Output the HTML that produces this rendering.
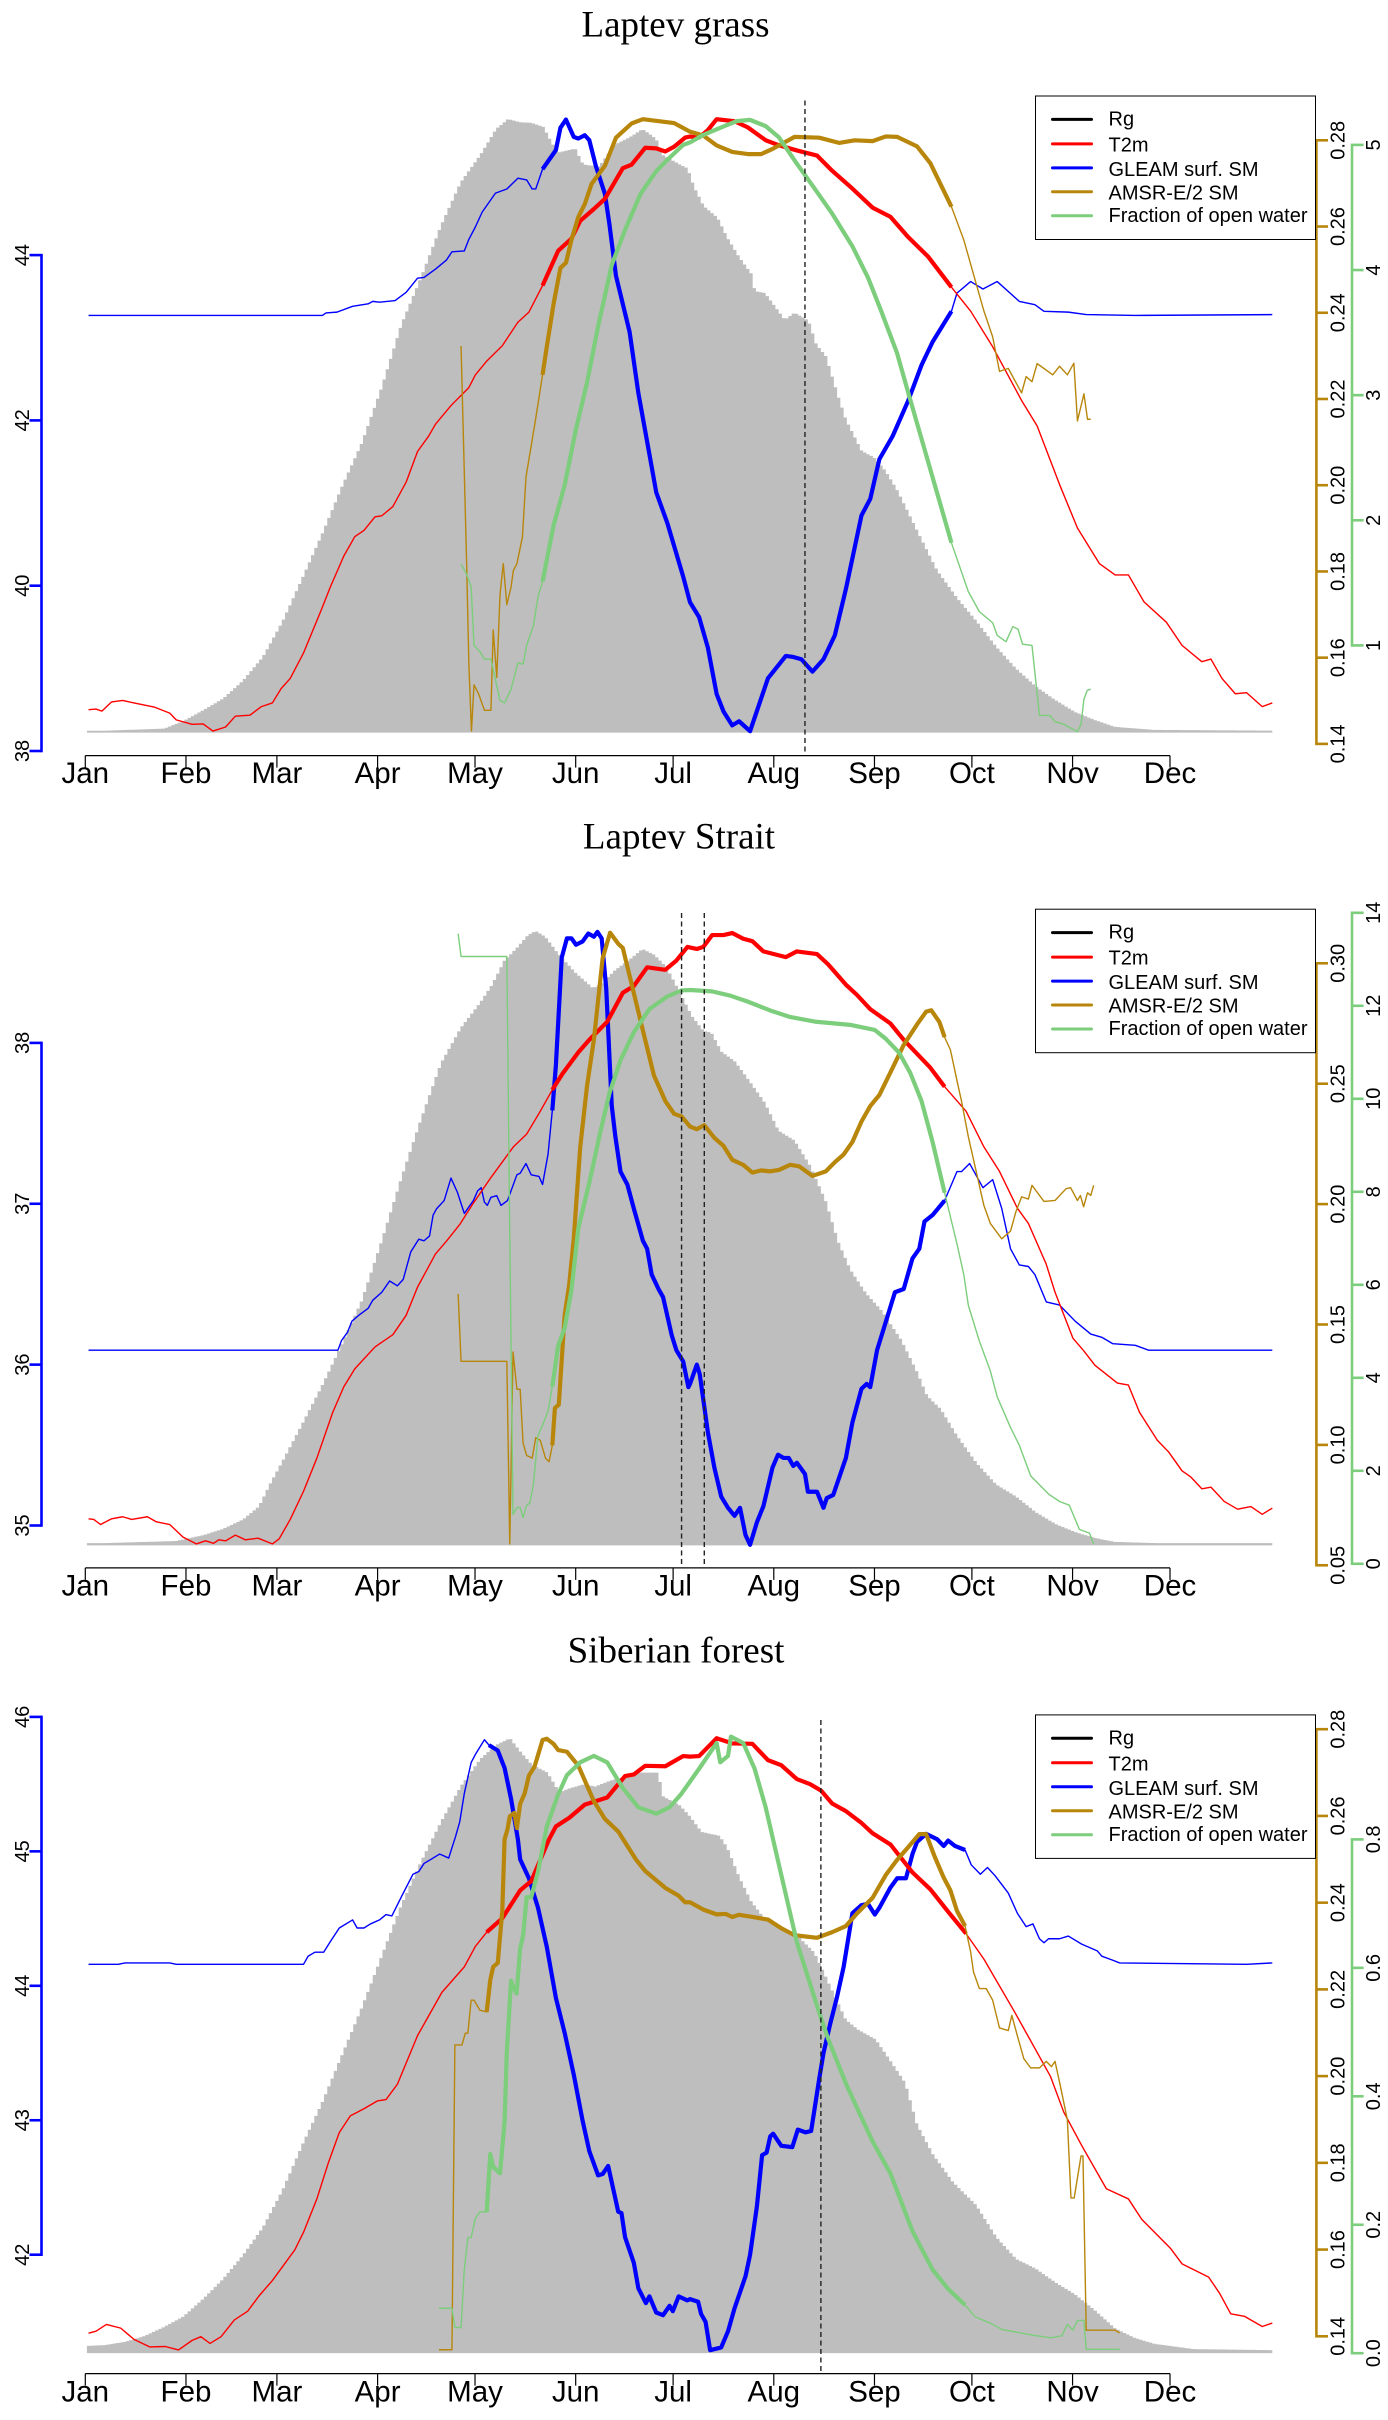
<!DOCTYPE html>
<html lang="en">
<head>
<meta charset="utf-8">
<title>Laptev grass, Laptev Strait, Siberian forest seasonal cycles</title>
<style>
html,body{margin:0;padding:0;background:#fff;}
svg{display:block;}
text{font-family:"Liberation Sans",Arial,sans-serif;fill:#000;}
.title{font-family:"Liberation Serif","Times New Roman",serif;font-size:37px;text-anchor:middle;}
.leg{font-size:20px;}
</style>
</head>
<body>
<svg id="chart" width="1388" height="2420" viewBox="0 0 1388 2420">
  <rect x="0" y="0" width="1388" height="2420" fill="#fff"/>
  <g id="panels"></g>

  <text class="title" x="675.5" y="36.5">Laptev grass</text>
  <text class="title" x="679" y="848.5">Laptev Strait</text>
  <text class="title" x="676" y="1662.3">Siberian forest</text>

  <g transform="translate(0,96)">
    <rect x="1035.5" y="0" width="280" height="143.5" fill="#fff" stroke="#000" stroke-width="1"/>
    <line x1="1052.5" x2="1091.5" y1="23.4" y2="23.4" stroke="#000" stroke-width="3" stroke-linecap="round"/>
    <text class="leg" x="1108.5" y="29.5">Rg</text>
    <line x1="1052.5" x2="1091.5" y1="47.9" y2="47.9" stroke="#f00" stroke-width="3" stroke-linecap="round"/>
    <text class="leg" x="1108.5" y="55.5">T2m</text>
    <line x1="1052.5" x2="1091.5" y1="71.9" y2="71.9" stroke="#00f" stroke-width="3" stroke-linecap="round"/>
    <text class="leg" x="1108.5" y="80">GLEAM surf. SM</text>
    <line x1="1052.5" x2="1091.5" y1="95.8" y2="95.8" stroke="#b8860b" stroke-width="3" stroke-linecap="round"/>
    <text class="leg" x="1108.5" y="103.5">AMSR-E/2 SM</text>
    <line x1="1052.5" x2="1091.5" y1="119.8" y2="119.8" stroke="#7ccd7c" stroke-width="3" stroke-linecap="round"/>
    <text class="leg" x="1108.5" y="126">Fraction of open water</text>
  </g>

  <g transform="translate(0,909.2)">
    <rect x="1035.5" y="0" width="280" height="143.5" fill="#fff" stroke="#000" stroke-width="1"/>
    <line x1="1052.5" x2="1091.5" y1="23.4" y2="23.4" stroke="#000" stroke-width="3" stroke-linecap="round"/>
    <text class="leg" x="1108.5" y="29.5">Rg</text>
    <line x1="1052.5" x2="1091.5" y1="47.9" y2="47.9" stroke="#f00" stroke-width="3" stroke-linecap="round"/>
    <text class="leg" x="1108.5" y="55.5">T2m</text>
    <line x1="1052.5" x2="1091.5" y1="71.9" y2="71.9" stroke="#00f" stroke-width="3" stroke-linecap="round"/>
    <text class="leg" x="1108.5" y="80">GLEAM surf. SM</text>
    <line x1="1052.5" x2="1091.5" y1="95.8" y2="95.8" stroke="#b8860b" stroke-width="3" stroke-linecap="round"/>
    <text class="leg" x="1108.5" y="103.5">AMSR-E/2 SM</text>
    <line x1="1052.5" x2="1091.5" y1="119.8" y2="119.8" stroke="#7ccd7c" stroke-width="3" stroke-linecap="round"/>
    <text class="leg" x="1108.5" y="126">Fraction of open water</text>
  </g>

  <g transform="translate(0,1714.9)">
    <rect x="1035.5" y="0" width="280" height="143.5" fill="#fff" stroke="#000" stroke-width="1"/>
    <line x1="1052.5" x2="1091.5" y1="23.4" y2="23.4" stroke="#000" stroke-width="3" stroke-linecap="round"/>
    <text class="leg" x="1108.5" y="29.5">Rg</text>
    <line x1="1052.5" x2="1091.5" y1="47.9" y2="47.9" stroke="#f00" stroke-width="3" stroke-linecap="round"/>
    <text class="leg" x="1108.5" y="55.5">T2m</text>
    <line x1="1052.5" x2="1091.5" y1="71.9" y2="71.9" stroke="#00f" stroke-width="3" stroke-linecap="round"/>
    <text class="leg" x="1108.5" y="80">GLEAM surf. SM</text>
    <line x1="1052.5" x2="1091.5" y1="95.8" y2="95.8" stroke="#b8860b" stroke-width="3" stroke-linecap="round"/>
    <text class="leg" x="1108.5" y="103.5">AMSR-E/2 SM</text>
    <line x1="1052.5" x2="1091.5" y1="119.8" y2="119.8" stroke="#7ccd7c" stroke-width="3" stroke-linecap="round"/>
    <text class="leg" x="1108.5" y="126">Fraction of open water</text>
  </g>
</svg>

<script>
/* ---------- shared categories ---------- */
const monthLabels = ['Jan','Feb','Mar','Apr','May','Jun','Jul','Aug','Sep','Oct','Nov','Dec'];
const monthStartDays = [1,32,60,91,121,152,182,213,244,274,305,335];

/* ---------- Laptev grass ---------- */
const grassRgDays = [2,7,25.3,31.3,37.4,43.5,49.6,55.7,61.8,67.9,73.9,80,86.1,92.2,98.3,104.4,110.5,116.6,122.7,127.5,131.2,134.8,138.5,142.1,144,146.4,151.9,154.3,159.2,164,168.9,172.6,176.8,178.7,184.1,186.5,188.4,191.4,195.7,198.7,202.4,206,207.2,210.3,213.9,216.4,219.4,223.7,226.1,229.1,232.8,235.2,240.1,243.8,247.4,251.1,257.1,263.2,269.3,275.4,281.5,287.6,293.7,299.8,305.8,311.9,318,330.2,366.7];
const grassRgVals = [0.2,0.2,1.2,5,10.3,16,24.8,36.4,53.9,75.2,96.5,119.7,141,168.2,199.1,222.4,247.6,268.9,282.4,295,299.9,298.3,298,296,290.2,283.4,285.4,277.6,276.6,287.3,291.2,295,290.2,282.4,277.6,275.7,266.9,257.3,251.5,241.8,232.1,224.3,215.6,214.6,206.9,201.5,205,201.1,189.5,183.6,164.3,152.7,137.2,134.2,127.5,117.8,98.4,79,65.5,53.9,41.3,30.6,21.9,15.1,9.3,5.4,2.1,0.6,0.2];
const grassT2mDays = [2,4.3,6.1,9.1,12.5,16,22.2,27,29,33.9,37.3,40.3,44.2,47.2,51.7,55.2,58.6,61.3,64.1,68.2,73.7,76.5,80.6,84,86.8,90.2,92.3,95.7,99.8,103.3,106.7,108.8,113.6,116.3,119.1,121.1,124.6,129.4,134.2,137.6,141.8,146.6,150.7,153.4,157.6,161,166.5,169.2,173.4,176.8,179.6,182.3,185.7,187.2,190,192.7,195.4,200.9,205,210.5,214.6,220.1,226.3,231,237.2,243.4,248.9,254.4,260.5,267.7,273.6,280.4,289.3,294.1,301,306.5,313.3,318.1,322.2,327,333.9,338.7,344.8,347.6,351,355.1,358.6,363.4,366.5];
const grassT2mVals = [261.05,261.08,260.98,261.43,261.5,261.38,261.18,260.88,260.55,260.33,260.35,260,260.2,260.73,260.78,261.2,261.38,262.08,262.58,263.83,265.95,267.08,268.58,269.53,269.83,270.5,270.55,271,272.2,273.7,274.45,275.03,275.95,276.38,276.83,277.45,278.13,278.88,280.03,280.53,281.83,283.53,284.13,285,285.58,286.08,287.58,287.75,288.58,288.55,288.4,288.63,289.08,289.13,289.08,289.45,289.98,289.88,289.58,288.95,288.7,288.45,288.2,287.45,286.58,285.65,285.2,284.2,283.25,281.75,280.58,278.83,276.2,274.95,272.08,269.95,268.2,267.65,267.65,266.33,265.33,264.2,263.4,263.53,262.58,261.83,261.88,261.2,261.38];
const grassGleamDays = [2,74,75.1,78.5,83.3,88.1,89.5,91.6,96.4,99.8,103.3,105.3,108.8,112.2,113.9,117.7,119.1,121.1,123.2,127.3,130.8,134.2,136.9,138.6,139.7,141.8,145.9,147.3,149,151.4,152.8,154.8,156.2,158.2,161,162.4,164.4,168.6,171.3,174.7,176.8,180.2,185.1,187.2,190,192.7,195.4,197.5,200.2,202.3,205.7,211.2,216.7,218.7,221.5,224.9,228.3,231.8,235.2,240,242.7,245.5,249.6,254.4,258.5,261.9,267.7,269.4,273.6,277.4,281.8,288.6,293.4,296.2,303.7,309.2,324.3,366.5];
const grassGleamVals = [43.27,43.27,43.30,43.31,43.38,43.41,43.44,43.43,43.45,43.55,43.72,43.73,43.83,43.94,44.04,44.05,44.19,44.34,44.52,44.75,44.80,44.93,44.91,44.80,44.80,45.04,45.27,45.54,45.64,45.43,45.41,45.45,45.39,45.08,44.74,44.37,43.75,43.07,42.33,41.59,41.13,40.76,40.11,39.80,39.62,39.25,38.69,38.48,38.31,38.36,38.24,38.88,39.15,39.14,39.11,38.96,39.11,39.40,39.96,40.85,41.05,41.53,41.81,42.24,42.67,42.95,43.32,43.54,43.68,43.59,43.68,43.44,43.40,43.32,43.31,43.28,43.27,43.28];
const grassAmsrDays = [116.7,118.4,119.1,119.9,120.7,122.1,123.9,125.9,126.6,127.7,128.7,129.7,130.8,132.1,132.8,133.9,135.6,136.7,139.7,141.8,143.1,145.2,147.3,149,150.7,152.8,154.8,156.9,161,164.4,169.2,172.7,182.3,187.2,191.3,195.4,200.2,205,209.1,212.6,219.4,227,233.1,237.9,243.4,247.5,251,257.1,261.2,267.7,271.5,277.7,280.4,282.5,285.2,289.3,290.7,292.5,294.1,298.9,301,303.4,305.4,306.5,308.5,309.6,310.6];
const grassAmsrVals = [0.2323,0.1824,0.1587,0.143,0.1537,0.1516,0.1478,0.1478,0.1664,0.1554,0.1747,0.1818,0.1723,0.1764,0.1802,0.1818,0.188,0.2019,0.2155,0.2256,0.2321,0.2421,0.2504,0.2516,0.2569,0.2622,0.2652,0.2699,0.2741,0.2806,0.2839,0.2849,0.284,0.282,0.2811,0.2788,0.2773,0.2768,0.2768,0.278,0.2808,0.2806,0.2794,0.28,0.2798,0.2809,0.2808,0.2786,0.2747,0.2646,0.2569,0.2404,0.2344,0.2264,0.2271,0.2214,0.2252,0.224,0.2282,0.2256,0.2276,0.2256,0.2283,0.2149,0.2212,0.2153,0.2153];
const grassWaterDays = [116.7,118.4,119.8,120.7,122.5,123.9,125.9,127.6,128.7,130.1,132.1,134.2,135.8,136.9,139,140.4,141.8,145.2,148.6,152.1,155.5,158.9,163.1,167.2,172,176.8,180.2,185.1,187.2,191.3,196.8,201.6,205.7,210.5,214.6,220.1,225.6,231,237.2,242,246.1,250.9,254.4,258.5,262.6,267.7,272.9,276.3,280.4,281.8,284.5,286.6,288.2,289.6,292.5,294.8,298,299.6,302.3,306.5,307.6,308.5,309.5,310.6];
const grassWaterVals = [1.65,1.57,1.47,1.00,0.95,0.89,0.89,0.69,0.56,0.54,0.65,0.86,0.85,1.00,1.16,1.39,1.51,1.96,2.28,2.73,3.10,3.55,4.04,4.32,4.61,4.79,4.88,5.00,5.02,5.08,5.14,5.19,5.20,5.15,5.06,4.85,4.65,4.45,4.19,3.94,3.67,3.34,3.02,2.65,2.28,1.82,1.43,1.27,1.18,1.08,1.03,1.15,1.13,1.01,1.00,0.44,0.44,0.39,0.37,0.31,0.37,0.57,0.64,0.65];
const grassGleamTicks = ['38','40','42','44'];
const grassAmsrTicks = ['0.14','0.16','0.18','0.20','0.22','0.24','0.26','0.28'];
const grassWaterTicks = ['1','2','3','4','5'];
const grassEventDays = [222.6];

/* ---------- Laptev Strait ---------- */
const straitRgDays = [2,7,28.9,37.4,43.5,49.6,54.5,58.1,61.8,67.9,73.9,80,86.1,92.2,98.3,104.4,110.5,116.6,122.7,126.3,130,133.6,137.3,139.7,142.7,146.4,151.9,157.4,160.4,164,168.9,172.6,176.2,179.9,184.1,187.8,191.4,193.8,196.9,201.1,206,210.3,214.5,219.4,224.3,229.1,232.8,236.5,241.3,246.2,252.3,257.1,260.2,264.5,269.3,275.4,281.5,287.6,293.7,299.8,305.8,311.9,318,330.2,366.7];
const straitRgVals = [0.4,0.4,1.4,4.3,7.4,12,18.4,30,40.7,59.1,77.5,97.8,119.1,148.2,179.2,208.3,235.4,252.8,265.4,274.1,285.7,291.5,298.3,300.3,297.4,289.6,279.9,272.2,275.1,280.9,286.7,291.5,288.6,282.8,270.2,258.6,251.3,250.5,241.2,236.3,225.7,216,202.4,197.6,185,167.6,148.2,134.6,123,114.3,99.8,84.3,72.6,65.9,53.3,39.7,29.1,23.2,15.5,9.7,5.8,2.9,1,0.4,0.4];
const straitT2mDays = [2,3.6,5.7,9.1,12.5,15.3,20.1,22.9,27,31.1,35.2,38,40.5,42.1,44.2,47.2,50.3,54.2,58.6,60.7,64.1,68.2,72.3,77.2,80.6,84,90.2,95.7,99.8,103.3,108.8,112.2,116.3,120.5,125.9,132.8,136.9,141.1,144.8,147.9,152.8,156.2,161.7,166.5,169.9,174,179.6,183,186.4,189.3,191.3,194,197.5,200.2,203.6,206.4,209.8,216.7,220.1,226.3,229.7,235.2,238.6,242.7,248.9,253,261.2,265.6,272.2,277.7,282.5,288,291.4,296.9,299.6,305.1,308.5,311.9,318.8,322.2,325.6,331.1,334.6,338.7,341.4,344.8,347.6,351.7,355.8,359.9,363.4,366.5];
const straitT2mVals = [261.23,261.2,260.95,261.23,261.33,261.2,261.33,261.08,260.95,260.33,260,260.15,260.03,260.2,260.15,260.43,260.2,260.28,260,260.25,261.2,262.58,264.2,266.45,267.7,268.58,269.65,270.25,271.2,272.58,274.2,274.83,275.65,276.7,277.95,279.45,280.08,281.2,282.25,283.03,284.08,284.7,285.58,287,287.33,288.25,288.13,288.58,289.25,289.15,289.25,289.83,289.83,289.93,289.65,289.53,289.03,288.75,289.03,288.9,288.4,287.4,286.9,286.2,285.5,284.7,283.33,282.4,281.2,279.45,278.25,276.45,275.7,273.7,272.33,270.08,269.45,268.75,267.88,267.78,266.45,265.08,264.5,263.58,263.28,262.7,262.78,262.08,261.7,261.83,261.45,261.75];
const straitGleamDays = [2,78.8,79.9,81.7,83.1,85.4,88.1,89.5,92.3,94.7,97.1,98.9,101.2,103.7,105.3,107,108.1,109.2,111.5,113.6,115.6,117.7,120.5,121.8,122.9,123.9,124.8,125.9,127.7,129,131,133.9,134.9,136.7,138.3,140.7,141.8,143.5,144.8,145.9,147.7,149.3,150.7,152.1,154.1,155.9,157.6,158.7,160,161.4,163.1,164.2,165.8,167.9,169.9,172.7,174,175.4,177.5,178.9,181.6,183,185.1,186.7,187.2,189.3,190.2,192.7,194.7,196.8,198.9,200.9,202.6,204.3,205.7,207.8,209.8,212.6,214.3,216,217.6,219,220.1,222.6,223.5,226.3,228.3,229.3,231.3,235.2,237.2,240,241.6,242.7,244.8,250.3,253,255.7,257.8,259.4,261.9,265.6,269.4,270.8,273.3,277.4,280.4,283.2,285.9,288.6,291.4,293.4,296.9,301,305.8,310.6,314,317.4,324.3,328.4,366.5];
const straitGleamVals = [36.09,36.09,36.15,36.20,36.27,36.31,36.35,36.40,36.45,36.52,36.49,36.53,36.70,36.78,36.77,36.80,36.93,36.97,37.02,37.16,37.07,36.94,37.02,37.08,37.10,37.01,36.99,37.04,37.05,36.99,37.02,37.18,37.19,37.25,37.18,37.17,37.12,37.31,37.58,37.86,38.53,38.65,38.65,38.61,38.63,38.68,38.66,38.69,38.65,38.34,37.61,37.42,37.20,37.12,36.97,36.77,36.72,36.56,36.47,36.42,36.18,36.09,36.02,35.86,35.88,36.00,35.94,35.58,35.36,35.18,35.11,35.06,35.11,34.94,34.88,35.02,35.12,35.36,35.44,35.42,35.42,35.37,35.39,35.32,35.21,35.21,35.11,35.17,35.19,35.42,35.64,35.85,35.88,35.86,36.09,36.45,36.47,36.66,36.72,36.89,36.93,37.02,37.20,37.20,37.25,37.10,37.15,36.97,36.72,36.62,36.61,36.56,36.39,36.37,36.27,36.19,36.17,36.13,36.12,36.09,36.09];
const straitAmsrDays = [115.8,116.7,130.8,131.7,132.7,133.9,134.9,135.8,136.9,138.6,139.7,141.1,142.7,143.8,144.8,145.6,146.8,148.6,150,151.4,153.4,155.5,157.6,160.3,162.6,165.1,166.5,169.2,173.4,176.1,179.6,182.3,184.6,187.2,189.3,191.6,194.7,197.5,200.2,203.6,206.4,209.1,211.9,214.6,218,220.8,224.9,229,231.8,234.5,237.2,240,242.7,245.5,249.6,253,257.1,259.9,261.5,264,265.6,267.4,269.4,270.8,272.9,277.7,279.7,283.2,285.9,287.5,289.3,291.4,292.5,296.2,299.6,303,304.4,306.5,307.4,308.4,309.6,310.6,311.5];
const straitAmsrVals = [0.1627,0.1347,0.1347,0.0589,0.1386,0.1231,0.1231,0.1008,0.0956,0.0945,0.103,0.1019,0.0945,0.093,0.0998,0.1153,0.1167,0.1538,0.1665,0.1856,0.2237,0.2492,0.2682,0.3021,0.3127,0.3081,0.3064,0.2915,0.2682,0.2534,0.2428,0.2375,0.2364,0.2322,0.2311,0.2328,0.2275,0.2242,0.2184,0.2163,0.2131,0.214,0.2136,0.2142,0.2163,0.2157,0.2117,0.2136,0.2174,0.2206,0.2258,0.2343,0.2407,0.2453,0.2566,0.2661,0.2746,0.2799,0.2805,0.2756,0.2693,0.264,0.2513,0.2428,0.228,0.1994,0.1919,0.1856,0.1888,0.1966,0.203,0.2021,0.2078,0.2011,0.2015,0.2064,0.2068,0.2015,0.2036,0.1989,0.2047,0.2036,0.2078];
const straitWaterDays = [115.8,116.7,130.8,131.7,132.7,133.9,134.9,135.8,136.9,137.9,139,140.4,141.8,143.5,144.8,146.6,148.6,150.7,152.8,156.2,159.6,162.4,165.8,169.9,174.7,180.2,184.6,187.2,194,199.5,205,211.9,218,225.6,236.5,244.1,247.5,251.6,255,258.5,261.9,265.6,269.4,271.5,272.9,276.3,279.7,281.8,285.9,288.6,292.1,297.6,301,304,307.1,310.2,311.5];
const straitWaterVals = [13.55,13.06,13.06,7.10,1.06,1.21,1.21,0.99,1.26,1.31,1.72,2.76,2.98,3.29,3.81,4.69,5.07,5.89,7.21,8.20,9.29,10.12,10.83,11.43,11.93,12.20,12.33,12.34,12.31,12.22,12.09,11.90,11.76,11.66,11.59,11.48,11.29,10.99,10.56,9.95,9.07,7.98,6.88,6.22,5.56,4.79,4.14,3.59,2.93,2.55,1.89,1.50,1.34,1.26,0.74,0.66,0.43];
const straitGleamTicks = ['35','36','37','38'];
const straitAmsrTicks = ['0.05','0.10','0.15','0.20','0.25','0.30'];
const straitWaterTicks = ['0','2','4','6','8','10','12','14'];
const straitEventDays = [184.6,191.6];

/* ---------- Siberian forest ---------- */
const forestRgDays = [2,7,13.1,19.2,25.3,31.3,37.4,43.5,49.6,55.7,61.8,67.9,73.9,80,86.1,92.2,98.3,104.4,110.5,116.6,122.7,127.5,131.8,134.8,138.5,143.3,147,150,154.3,158,162.8,167.7,171.3,177.4,178.9,184.1,187.1,190.8,196.3,198.7,202.4,206,209.7,214.5,220.6,225.5,229.8,235.2,238.9,244.4,248.6,253.5,257.1,262,268.1,275.4,281.5,287.6,293.7,299.8,305.8,311.9,318,324.1,330.2,342.4,366.7];
const forestRgVals = [2.8,3.2,4.7,7.6,12.1,17.3,26,35.7,47.3,60.9,79.3,101.6,121.9,145.2,168.4,193.6,218.8,240.1,259.5,276.9,290.5,297.2,300.5,294.3,287.6,283.7,274,275.9,277.9,276.9,279.8,281.8,283.7,283.7,272.1,267.6,262.4,254.6,252.7,246.9,232.4,220.7,213,209.1,203.3,195.5,181,162.6,157.8,152.9,143.2,131.6,111.3,96.7,83.2,71.6,56.1,45.4,40.6,33.8,28,20.2,11.5,6.7,3.8,1.2,0.7];
const forestT2mDays = [2,4.3,7.5,11.9,16,20.8,25.6,29.7,33.9,36.6,39.4,42.8,46.9,51,54.5,58.6,65.5,68.2,72.3,75.8,79.2,82.6,86.8,90.9,93.6,97.1,103.3,110.8,117.7,121.1,124.6,129.4,134.9,138.3,143.8,145.9,150,154.8,161.7,167.2,169.9,173.4,179.6,185.1,187.2,190,195.4,200.2,206.4,211.2,215.3,220.1,224.2,227.6,231,235.2,240,243.4,248.9,255.7,261.2,266.7,272.2,277.7,287.3,298.2,302.3,307.8,315.4,322.2,326.3,335.2,338.7,346.9,350.3,353.7,357.9,363.4,366.5];
const forestT2mVals = [260.9,261,261.33,261.15,260.6,260.23,260.25,260.08,260.55,260.73,260.4,260.73,261.55,261.98,262.73,263.48,264.98,265.85,267.48,269.23,270.73,271.55,271.9,272.28,272.35,273.1,275.48,277.6,278.85,279.85,280.55,281.23,282.6,283.05,285.1,285.73,286.15,286.8,287.15,288.2,288.28,288.7,288.68,289.18,289.15,289.18,290.05,289.8,289.78,288.98,288.73,288.05,287.8,287.48,286.85,286.48,285.9,285.4,284.85,283.48,282.65,281.55,280.48,279.23,276.6,273.48,271.73,270.1,267.98,267.48,266.48,265.05,264.3,263.65,262.85,261.85,261.73,261.23,261.4];
const forestGleamDays = [2,11.2,13.2,27,29,68.2,69.6,71.7,74.4,76.5,79.2,83.3,84.7,86.8,88.8,91.6,93.6,95.4,98.5,101.9,103.7,105.3,107.4,110.1,112.9,115,116.3,117.7,119.8,121.1,123.9,125.3,128,130.1,132.1,134.2,134.9,137.6,140.4,143.1,145.9,148.6,151.4,154.1,156.2,158.9,160.3,162,165.1,166.1,167.2,169.9,171.3,173.6,174.7,176.8,178.9,180.9,181.9,183.7,186.4,187.2,189.7,190.6,192,193.4,196.8,198.9,200.9,204.3,205.7,207.8,209.4,210.8,211.9,212.8,215.3,218.7,220.4,222.8,224.5,227,228.3,230.4,232.4,234.5,237.2,240,242,244.1,245.5,248.9,251,253.7,255.7,257.1,259.9,263.3,265.3,266.7,268.8,271.9,273.8,276.6,278.8,281.1,285.2,288,290.7,292.8,294.8,296.2,297.6,301,303.7,307.8,312.6,314,317.4,319.5,358.6,366.5];
const forestGleamVals = [44.16,44.16,44.17,44.17,44.16,44.16,44.22,44.25,44.25,44.33,44.43,44.49,44.43,44.43,44.46,44.49,44.53,44.52,44.67,44.83,44.85,44.91,44.94,44.98,44.95,45.11,45.22,45.43,45.66,45.72,45.83,45.79,45.75,45.62,45.39,45.09,44.94,44.80,44.58,44.29,43.91,43.65,43.34,43.00,42.77,42.59,42.60,42.66,42.32,42.31,42.13,41.94,41.75,41.64,41.69,41.57,41.55,41.62,41.58,41.69,41.66,41.67,41.65,41.56,41.50,41.29,41.31,41.43,41.60,41.84,42.00,42.36,42.74,42.76,42.88,42.90,42.81,42.80,42.93,42.91,42.92,43.31,43.50,43.72,43.91,44.14,44.54,44.60,44.61,44.53,44.58,44.73,44.80,44.80,44.98,45.07,45.13,45.09,45.04,45.08,45.04,45.01,44.90,44.83,44.88,44.82,44.69,44.54,44.44,44.46,44.35,44.32,44.35,44.35,44.37,44.31,44.26,44.22,44.19,44.17,44.16,44.17];
const forestAmsrDays = [109.9,113.9,114.8,117,118,118.8,119.8,120.7,122.5,124.6,125.7,126.6,128,129.4,130.1,131,131.7,133.1,133.9,134.9,136.3,137.6,139.3,141.8,143.1,145.2,146.6,149.3,152.8,157.6,161,165.1,170.6,173.4,179.6,183.7,185.7,187.2,191.3,195.4,198.2,200.2,202.3,206.4,211.2,215.3,219.4,222.8,226.3,231,235.2,238.6,243.4,247.5,251,254.4,257.8,259.9,262.6,265.3,267.4,269.4,271.9,273.6,274.5,276.3,278.4,280.4,282.5,285.2,286.3,288,290,292.1,294.8,296.9,298.5,299.6,301.3,303.4,304.5,305.5,307.6,308.2,309.2,318.1,319.5];
const forestAmsrVals = [0.1369,0.1369,0.2072,0.2072,0.2099,0.2099,0.2175,0.2175,0.2152,0.2148,0.2222,0.2252,0.2261,0.2381,0.2546,0.2569,0.2599,0.2607,0.2572,0.2628,0.2652,0.2693,0.2713,0.2775,0.2778,0.2766,0.2752,0.2748,0.2716,0.2634,0.2593,0.2564,0.2499,0.2473,0.2434,0.2416,0.2401,0.2401,0.2384,0.2373,0.2374,0.2367,0.2372,0.2367,0.2361,0.2341,0.2325,0.2322,0.2319,0.2332,0.2346,0.2375,0.2411,0.2464,0.2499,0.2528,0.2558,0.2558,0.2505,0.2458,0.2428,0.2381,0.2346,0.2287,0.224,0.2202,0.2202,0.2175,0.2111,0.2105,0.214,0.2093,0.204,0.2019,0.2019,0.2034,0.2022,0.2034,0.1975,0.1899,0.1719,0.1719,0.1816,0.1816,0.1414,0.1414,0.1408];
const forestWaterDays = [109.9,113.9,114.8,116.7,117.7,118.8,119.8,121.1,122.5,124.6,125.7,126.6,128.7,130.1,130.8,132.1,132.8,133.8,134.9,135.8,136.9,138.3,140.4,143.1,146.6,149.3,153.4,157.6,161.7,166.5,171.3,176.8,180.9,184.4,187.2,190,192.7,195.4,196.5,198.9,199.8,203.6,207.1,210.5,214.6,220.1,227,229.7,235.2,237.9,243.4,248.9,255.7,261.9,266.7,271.9,274.9,280.4,283.2,292.8,298.2,301.7,303.4,305.1,306.5,308.5,309.2,319.5];
const forestWaterVals = [0.07,0.07,0.04,0.04,0.13,0.18,0.18,0.21,0.22,0.22,0.31,0.29,0.28,0.36,0.47,0.58,0.57,0.56,0.63,0.65,0.71,0.71,0.75,0.82,0.87,0.90,0.92,0.93,0.92,0.88,0.85,0.84,0.85,0.87,0.89,0.91,0.93,0.95,0.92,0.93,0.96,0.95,0.91,0.85,0.76,0.64,0.53,0.49,0.42,0.39,0.33,0.28,0.19,0.13,0.10,0.075,0.057,0.045,0.037,0.028,0.024,0.027,0.045,0.036,0.051,0.051,0.006,0.006];
const forestGleamTicks = ['42','43','44','45','46'];
const forestAmsrTicks = ['0.14','0.16','0.18','0.20','0.22','0.24','0.26','0.28'];
const forestWaterTicks = ['0.0','0.2','0.4','0.6','0.8'];
const forestEventDays = [227.5];

/* ---------- axis functions ---------- */
function linear(d0, d1, r0, r1) {
  return function (v) { return r0 + (v - d0) * (r1 - r0) / (d1 - d0); };
}
const xScale = linear(1, 335, 85.3, 1170);
const DAY_WIDTH = xScale(2) - xScale(1);

const COLORS = { t2m: '#ff0000', gleam: '#0000ff', amsr: '#b8860b', water: '#7ccd7c', rg: '#bebebe' };

const panels = [
  {
    id: 'laptev-grass', axisY: 755.6, labelY: 783, dashTop: 100.5, baseY: 731.1, thick: [141.8, 267.7],
    rgY: linear(0, 300, 731.1, 118.8), t2mY: linear(260, 290, 731.1, 118.8),
    gleamY: linear(38, 44, 751, 255.1), amsrY: linear(0.14, 0.28, 743.9, 140.3), waterY: linear(1, 5, 645.4, 144.9),
    rgD: grassRgDays, rgV: grassRgVals, t2mD: grassT2mDays, t2mV: grassT2mVals,
    gleamD: grassGleamDays, gleamV: grassGleamVals, amsrD: grassAmsrDays, amsrV: grassAmsrVals,
    waterD: grassWaterDays, waterV: grassWaterVals,
    gleamT: grassGleamTicks, amsrT: grassAmsrTicks, waterT: grassWaterTicks, events: grassEventDays
  },
  {
    id: 'laptev-strait', axisY: 1567.9, labelY: 1595.7, dashTop: 913, baseY: 1543.9, thick: [144.8, 265.6],
    rgY: linear(0, 300, 1543.9, 931.6), t2mY: linear(260, 290, 1543.9, 931.6),
    gleamY: linear(35, 38, 1525.5, 1042.9), amsrY: linear(0.05, 0.30, 1565.3, 963.3), waterY: linear(0, 14, 1563.8, 912.8),
    rgD: straitRgDays, rgV: straitRgVals, t2mD: straitT2mDays, t2mV: straitT2mVals,
    gleamD: straitGleamDays, gleamV: straitGleamVals, amsrD: straitAmsrDays, amsrV: straitAmsrVals,
    waterD: straitWaterDays, waterV: straitWaterVals,
    gleamT: straitGleamTicks, amsrT: straitAmsrTicks, waterT: straitWaterTicks, events: straitEventDays
  },
  {
    id: 'siberian-forest', axisY: 2373.6, labelY: 2401.4, dashTop: 1720, baseY: 2351.6, thick: [124.6, 272.3],
    rgY: linear(0, 300, 2351.6, 1739.3), t2mY: linear(260, 290, 2351.6, 1739.3),
    gleamY: linear(42, 46, 2254.7, 1716.9), amsrY: linear(0.14, 0.28, 2336.3, 1729.2), waterY: linear(0, 0.8, 2353.2, 1839.4),
    rgD: forestRgDays, rgV: forestRgVals, t2mD: forestT2mDays, t2mV: forestT2mVals,
    gleamD: forestGleamDays, gleamV: forestGleamVals, amsrD: forestAmsrDays, amsrV: forestAmsrVals,
    waterD: forestWaterDays, waterV: forestWaterVals,
    gleamT: forestGleamTicks, amsrT: forestAmsrTicks, waterT: forestWaterTicks, events: forestEventDays
  }
];

/* ---------- drawing ---------- */
const host = document.getElementById('panels');
const NS = host.namespaceURI;

function make(tag, parent, attrs) {
  const node = document.createElementNS(NS, tag);
  for (const k in attrs) node.setAttribute(k, attrs[k]);
  parent.appendChild(node);
  return node;
}

function pathFrom(days, vals, yFn, lo, hi) {
  let d = '';
  for (let i = 0; i < days.length; i++) {
    if (days[i] < lo || days[i] > hi) continue;
    d += (d ? 'L' : 'M') + xScale(days[i]).toFixed(2) + ' ' + yFn(vals[i]).toFixed(2);
  }
  return d;
}

/* Value of a read-off series at a given day, used to draw Rg as one-day steps. */
function valueAt(days, vals, day) {
  for (let i = 1; i < days.length; i++) {
    if (day <= days[i]) {
      return vals[i - 1] + (vals[i] - vals[i - 1]) * (day - days[i - 1]) / (days[i] - days[i - 1]);
    }
  }
  return vals[vals.length - 1];
}

function stepAreaPath(days, vals, yFn, baseY) {
  const first = Math.ceil(days[0]);
  const last = Math.floor(days[days.length - 1]);
  const half = DAY_WIDTH / 2;
  let d = 'M' + (xScale(first) - half).toFixed(2) + ' ' + baseY;
  for (let day = first; day <= last; day++) {
    const y = yFn(valueAt(days, vals, day)).toFixed(2);
    d += 'L' + (xScale(day) - half).toFixed(2) + ' ' + y + 'L' + (xScale(day) + half).toFixed(2) + ' ' + y;
  }
  return d + 'L' + (xScale(last) + half).toFixed(2) + ' ' + baseY + 'Z';
}

function drawSeries(g, p, key) {
  const thin = make('path', g, { d: pathFrom(p[key + 'D'], p[key + 'V'], p[key + 'Y'], -Infinity, Infinity), fill: 'none', stroke: COLORS[key], 'stroke-width': 1.4, 'stroke-linejoin': 'round' });
  
  
  const thick = make('path', g, { d: pathFrom(p[key + 'D'], p[key + 'V'], p[key + 'Y'], p.thick[0], p.thick[1]), fill: 'none', stroke: COLORS[key], 'stroke-width': 4.2, 'stroke-linejoin': 'round' });
  
  
}

function drawVerticalAxis(g, p, name, labels, yFn, axisX, tickX, labelX, color) {
  const axisG = make('g', g, {});
  
  
  const ys = labels.map(function (s) { return yFn(parseFloat(s)); });
  const spine = make('line', axisG, { x1: axisX, x2: axisX, y1: Math.min.apply(null, ys) - 1.25, y2: Math.max.apply(null, ys) + 1.25, stroke: color, 'stroke-width': 2.6 });
  
  
  labels.forEach(function (label, i) {
    const tick = make('line', axisG, { x1: axisX, x2: tickX, y1: ys[i], y2: ys[i], stroke: color, 'stroke-width': 2.6 });
    
    
    const text = make('text', axisG, { x: labelX, y: ys[i], 'text-anchor': 'middle', 'font-size': 20, transform: 'rotate(-90 ' + labelX + ' ' + ys[i] + ')' });
    text.textContent = label;
    
    
  });
}

panels.forEach(function (p) {
  const g = make('g', host, {});
  
  

  /* Rg area */
  const rg = make('path', g, { d: stepAreaPath(p.rgD, p.rgV, p.rgY, p.baseY + 1.5), fill: COLORS.rg, stroke: 'none' });
  
  

  drawSeries(g, p, 'gleam');
  drawSeries(g, p, 't2m');
  drawSeries(g, p, 'amsr');
  drawSeries(g, p, 'water');

  p.events.forEach(function (day) {
    const dash = make('line', g, { x1: xScale(day), x2: xScale(day), y1: p.dashTop, y2: p.axisY, stroke: '#222', 'stroke-width': 1.4, 'stroke-dasharray': '5 3.5' });
    
    
  });

  /* x axis */
  const xG = make('g', g, {});
  
  
  const xLine = make('line', xG, { x1: xScale(monthStartDays[0]), x2: xScale(monthStartDays[monthStartDays.length - 1]), y1: p.axisY, y2: p.axisY, stroke: '#000', 'stroke-width': 1.2 });
  
  
  monthLabels.forEach(function (label, i) {
    const mx = xScale(monthStartDays[i]);
    const tick = make('line', xG, { x1: mx, x2: mx, y1: p.axisY, y2: p.axisY + 12, stroke: '#000', 'stroke-width': 1.2 });
    
    
    const text = make('text', xG, { x: mx, y: p.labelY, 'text-anchor': 'middle', 'font-size': 29.5 });
    text.textContent = label;
    
    
  });

  drawVerticalAxis(g, p, 'gleam', p.gleamT, p.gleamY, 41.5, 29.5, 29, COLORS.gleam);
  drawVerticalAxis(g, p, 'amsr', p.amsrT, p.amsrY, 1316.4, 1328, 1344.5, COLORS.amsr);
  drawVerticalAxis(g, p, 'water', p.waterT, p.waterY, 1352, 1363.6, 1380, COLORS.water);
});
</script>
</body>
</html>
